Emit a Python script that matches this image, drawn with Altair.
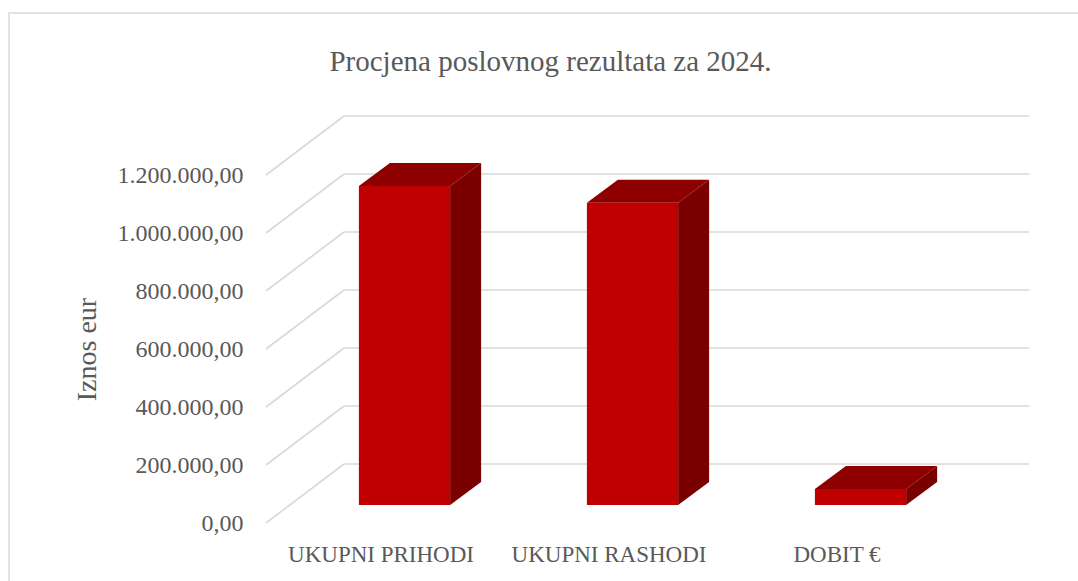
import altair as alt
import pandas as pd

# ---- data ----
categories = ["UKUPNI PRIHODI", "UKUPNI RASHODI", "DOBIT €"]
values = [1100000, 1042000, 55000]
tick_values = [0, 200000, 400000, 600000, 800000, 1000000, 1200000]

# ---- geometry of the pseudo-3D view (pixels) ----
W, H = 763, 409
LEFT, TOP = 266, 114
PX_X = 228.0                 # pixels per category step
PX_Y = 348.0 / 1200000       # pixels per euro
X_MIN = -114.5 / PX_X
X_MAX = (W - 114.5) / PX_X
Y_MAX = H / PX_Y

def ux(p):
    return p / PX_X

def uy(p):
    return p / PX_Y

WALL_DX, WALL_DY = ux(78), uy(59)
SHIFT_X, SHIFT_Y = ux(24), uy(18)
DEPTH_X, DEPTH_Y = ux(31), uy(23)
HALF = 0.2

GRAY = "#595959"
GRID = "#d9d9d9"
FONT = "Liberation Serif"

# grid segments: back wall horizontals and left floor diagonals
grid_rows = []
for v in tick_values:
    grid_rows.append({"x": X_MIN + WALL_DX, "x2": X_MAX, "y": v + WALL_DY, "y2": v + WALL_DY})
    grid_rows.append({"x": X_MIN, "x2": X_MIN + WALL_DX, "y": v, "y2": v + WALL_DY})
grid_df = pd.DataFrame(grid_rows)

front_rows, side_rows, top_rows = [], [], []
for i, (c, v) in enumerate(zip(categories, values)):
    x0 = i + SHIFT_X - HALF
    x1 = i + SHIFT_X + HALF
    yb = SHIFT_Y
    yv = SHIFT_Y + v
    front_rows.append({"cat": c, "x": x0, "x2": x1, "y": yb, "y2": yv})
    side_rows += [
        {"cat": c, "x": x1, "y": yv, "y2": yb},
        {"cat": c, "x": x1 + DEPTH_X, "y": yv + DEPTH_Y, "y2": yb + DEPTH_Y},
    ]
    top_rows += [
        {"cat": c, "x": x0, "y": yv, "y2": yv},
        {"cat": c, "x": x0 + DEPTH_X, "y": yv + DEPTH_Y, "y2": yv},
        {"cat": c, "x": x1, "y": yv + DEPTH_Y, "y2": yv},
        {"cat": c, "x": x1 + DEPTH_X, "y": yv + DEPTH_Y, "y2": yv + DEPTH_Y},
    ]
front_df = pd.DataFrame(front_rows)
side_df = pd.DataFrame(side_rows)
top_df = pd.DataFrame(top_rows)

label_expr = "[" + ",".join("'" + c + "'" for c in categories) + "][datum.value]"
y_label_expr = (
    "replace(replace(replace(format(datum.value, ',.2f'), regexp(',', 'g'), '#'), '.', ','), regexp('#', 'g'), '.')"
)

x_scale = alt.Scale(domain=[X_MIN, X_MAX], nice=False, zero=False)
y_scale = alt.Scale(domain=[0, Y_MAX], nice=False, zero=False)

x_axis = alt.Axis(
    values=[0, 1, 2], labelExpr=label_expr, title=None, domain=False, ticks=False,
    grid=False, labelFont=FONT, labelFontSize=23, labelColor=GRAY,
    labelBaseline="middle", labelPadding=31, labelFlush=False, labelOverlap=False,
    labelLimit=0,
)
y_axis = alt.Axis(
    values=tick_values, labelExpr=y_label_expr, title="Iznos eur", domain=False,
    ticks=False, grid=False, labelFont=FONT, labelFontSize=24, labelColor=GRAY,
    labelPadding=23, labelLimit=0, titleFont=FONT, titleFontSize=28, titleColor=GRAY,
    titleFontWeight="normal", titleAngle=270, titleAlign="center",
    titleBaseline="middle", titleX=87 - LEFT, titleY=349 - TOP,
)


def X(field):
    return alt.X(field, type="quantitative", scale=x_scale, axis=x_axis)


def Y(field):
    return alt.Y(field, type="quantitative", scale=y_scale, axis=y_axis)


border = alt.Chart(pd.DataFrame({"a": [0]})).mark_rect(
    fillOpacity=0, stroke=GRID, strokeWidth=1.5
).encode(
    x=alt.value(9 - LEFT), x2=alt.value(W + 60),
    y=alt.value(13 - TOP), y2=alt.value(H + 80),
)

grid = alt.Chart(grid_df).mark_rule(color=GRID, strokeWidth=1.6).encode(
    x=X("x"), x2="x2:Q", y=Y("y"), y2="y2:Q",
)

side = alt.Chart(side_df).mark_area(color="#7A0000", interpolate="linear").encode(
    x=X("x"), y=Y("y"), y2="y2:Q", detail="cat:N",
)

top = alt.Chart(top_df).mark_area(color="#8E0000", interpolate="linear").encode(
    x=X("x"), y=Y("y"), y2="y2:Q", detail="cat:N",
)

front = alt.Chart(front_df).mark_rect(color="#C00000").encode(
    x=X("x"), x2="x2:Q", y=Y("y"), y2="y2:Q",
)

chart = alt.layer(grid, side, top, front, border).properties(
    width=W, height=H,
    autosize=alt.AutoSizeParams(type="none"),
    padding={"left": LEFT, "top": TOP, "right": 1078 - LEFT - W, "bottom": 581 - TOP - H},
    title=alt.Title(
        "Procjena poslovnog rezultata za 2024.", font=FONT, fontSize=29,
        fontWeight="normal", color=GRAY, anchor="middle", frame="group",
        dx=-97, baseline="alphabetic", offset=-88,
    ),
).configure(
    background="white",
    view=alt.ViewConfig(strokeWidth=0),
)

chart.save("out.html", embed_options={"renderer": "svg", "actions": False})
